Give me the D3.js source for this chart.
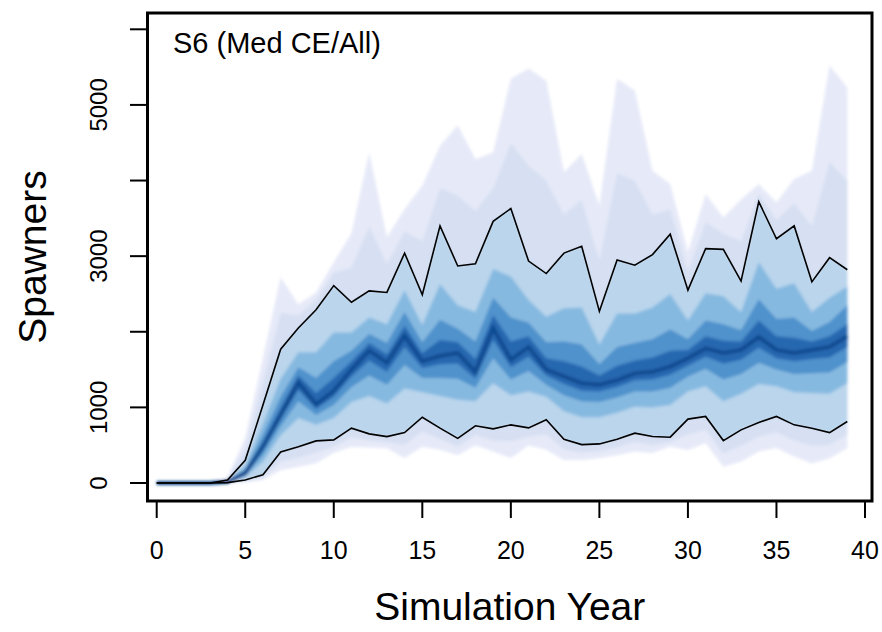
<!DOCTYPE html>
<html>
<head>
<meta charset="utf-8">
<script src="https://cdn.jsdelivr.net/npm/d3@7"></script>
<style>
  body { margin: 0; background: #fff; }
  text { font-family: "Liberation Sans", Arial, sans-serif; fill: #000; }
</style>
</head>
<body>
<svg id="chart"></svg>
<script>
// simulation years 0..39
var years = d3.range(0, 40);

// quantiles of spawners
var q01 = [0,0,0,0,0,10,40,170,216,260,400,480,470,460,330,480,440,370,500,415,
           330,500,440,305,305,330,370,415,398,482,438,530,216,283,415,464,349,261,327,464];
var q05 = [0,0,0,0,2,20,70,280,330,400,480,600,560,540,500,680,580,480,630,560,
           550,610,640,440,400,420,470,540,500,540,640,700,390,490,610,670,560,490,500,640];
var q10 = [0,0,0,0,5,40,110,410,480,557,570,725,650,614,667,870,725,590,756,716,
           769,729,836,579,508,517,579,659,614,606,845,880,561,703,800,880,769,725,667,813];
var q20 = [0,0,0,0,10,80,280,630,860,770,860,1070,1150,1050,1250,1200,1150,1100,1080,1320,
           1160,1210,1140,950,870,870,930,1010,1000,1030,1210,1280,1080,1180,1310,1280,1200,1190,1180,1320];
var q30 = [0,0,0,0,12,103,370,750,1080,900,1030,1270,1420,1300,1560,1390,1390,1380,1260,1650,
           1370,1480,1300,1160,1080,1070,1130,1210,1210,1260,1410,1510,1370,1440,1590,1500,1440,1450,1460,1600];
var q40 = [0,0,0,0,14,119,436,840,1230,980,1140,1410,1620,1470,1800,1520,1570,1580,1380,1890,
           1530,1670,1420,1310,1220,1210,1270,1360,1370,1430,1550,1670,1580,1630,1790,1650,1610,1640,1660,1800];
var q50 = [0,0,0,0,15,130,480,900,1330,1040,1220,1500,1750,1590,1950,1610,1680,1720,1470,2050,
           1630,1800,1500,1410,1320,1300,1360,1450,1470,1540,1650,1780,1720,1760,1930,1760,1720,1760,1800,1940];
var q60 = [0,0,0,0,18,150,546,1000,1420,1190,1390,1610,1850,1700,2080,1720,1890,1860,1640,2220,
           1870,1940,1650,1610,1540,1420,1550,1620,1660,1750,1760,1940,1880,1870,2150,1940,1920,1870,1940,2100];
var q70 = [0,0,0,0,22,178,634,1140,1530,1390,1610,1750,1970,1850,2260,1860,2160,2040,1870,2450,
           2190,2120,1860,1870,1830,1570,1800,1850,1900,2030,1900,2150,2100,2020,2430,2170,2190,2010,2130,2350];
var q80 = [0,0,0,0,29,224,783,1380,1730,1730,1990,1990,2190,2100,2550,2090,2630,2350,2260,2830,
           2730,2420,2200,2310,2320,1830,2240,2240,2320,2500,2150,2510,2470,2260,2920,2570,2640,2260,2450,2600];
var q90 = [0,0,0,0,40,300,1030,1770,2050,2290,2610,2390,2540,2520,3040,2490,3400,2870,2900,3460,
           3630,2935,2770,3040,3130,2270,2950,2880,3020,3290,2550,3100,3090,2670,3720,3230,3400,2660,2980,2820];
var q95 = [0,0,0,0,60,440,1330,2250,2220,2420,2780,2850,3400,2900,3330,3200,3900,3800,3600,3900,
           4500,4200,4000,3550,3750,2950,4100,4000,3550,3620,2800,3450,3300,3200,3830,3480,3700,3400,4250,4000];
var q99 = [0,0,0,0,80,600,1650,2720,2360,2520,2920,3300,4370,3250,3620,3930,4460,4730,4280,4370,
           5345,5480,5320,4110,4350,3665,5345,5190,4130,3950,3050,3820,3510,3750,3950,3710,4020,4130,5520,5230];

var yTicks = [0, 1000, 2000, 3000, 4000, 5000, 6000];
var yLabels = [0, 1000, 3000, 5000];
var xTicks = [0, 5, 10, 15, 20, 25, 30, 35, 40];

var width = 882, height = 632;
var box = {left: 147.5, right: 872, top: 13, bottom: 501};

var svg = d3.select("#chart")
    .attr("width", width)
    .attr("height", height);

var x = d3.scaleLinear().domain([0, 40]).range([156.7, 865]);
var y = d3.scaleLinear().domain([0, 6000]).range([483, 29.3]);

var defs = svg.append("defs");
defs.append("clipPath").attr("id", "plotclip")
    .append("rect")
    .attr("x", box.left).attr("y", box.top)
    .attr("width", box.right - box.left).attr("height", box.bottom - box.top);
defs.append("filter").attr("id", "soft")
    .attr("x", "-5%").attr("y", "-5%").attr("width", "110%").attr("height", "110%")
    .append("feGaussianBlur").attr("stdDeviation", 1.8);

// outer to inner
var bands = [
    {lo: q01, hi: q99, color: "#e6e9f8"},
    {lo: q05, hi: q95, color: "#d7e0f2"},
    {lo: q10, hi: q90, color: "#bad5ec"},
    {lo: q20, hi: q80, color: "#86b9e0"},
    {lo: q30, hi: q70, color: "#4f92cc"},
    {lo: q40, hi: q60, color: "#2767b0"}
];

var area = function (lo, hi) {
    return d3.area()
        .x(function (d) { return x(d); })
        .y0(function (d, i) { return y(lo[i]); })
        .y1(function (d, i) { return y(hi[i]); });
};

var line = function (vals) {
    return d3.line()
        .x(function (d) { return x(d); })
        .y(function (d, i) { return y(vals[i]); });
};

var plot = svg.append("g").attr("clip-path", "url(#plotclip)");
var fan = plot.append("g").attr("filter", "url(#soft)");

bands.forEach(function (b) {
    fan.append("path")
        .datum(years)
        .attr("d", area(b.lo, b.hi))
        .attr("fill", b.color);
});

fan.append("path")
    .datum(years)
    .attr("d", line(q50))
    .attr("fill", "none")
    .attr("stroke", "#0b4a8f")
    .attr("stroke-width", 4);

[q10, q90].forEach(function (q) {
    plot.append("path")
        .datum(years)
        .attr("d", line(q))
        .attr("fill", "none")
        .attr("stroke", "#000")
        .attr("stroke-width", 1.6)
        .attr("stroke-linejoin", "miter");
});

// frame
svg.append("rect")
    .attr("x", box.left).attr("y", box.top)
    .attr("width", box.right - box.left).attr("height", box.bottom - box.top)
    .attr("fill", "none")
    .attr("stroke", "#000")
    .attr("stroke-width", 3);

// y axis
svg.selectAll(".ytick")
    .data(yTicks)
    .enter().append("line")
    .attr("class", "ytick")
    .attr("x1", 130).attr("x2", box.left)
    .attr("y1", function (d) { return y(d); })
    .attr("y2", function (d) { return y(d); })
    .attr("stroke", "#000")
    .attr("stroke-width", 2);

svg.selectAll(".ylab")
    .data(yLabels)
    .enter().append("text")
    .attr("class", "ylab")
    .attr("transform", function (d) { return "translate(107," + y(d) + ")rotate(-90)"; })
    .attr("text-anchor", "middle")
    .style("font-size", "24px")
    .text(function (d) { return d; });

// x axis
svg.selectAll(".xtick")
    .data(xTicks)
    .enter().append("line")
    .attr("class", "xtick")
    .attr("x1", function (d) { return x(d); })
    .attr("x2", function (d) { return x(d); })
    .attr("y1", box.bottom).attr("y2", 518)
    .attr("stroke", "#000")
    .attr("stroke-width", 2);

svg.selectAll(".xlab")
    .data(xTicks)
    .enter().append("text")
    .attr("class", "xlab")
    .attr("x", function (d) { return x(d); })
    .attr("y", 559)
    .attr("text-anchor", "middle")
    .style("font-size", "25px")
    .text(function (d) { return d; });

svg.append("text")
    .attr("x", (box.left + box.right) / 2)
    .attr("y", 620)
    .attr("text-anchor", "middle")
    .style("font-size", "39px")
    .text("Simulation Year");

svg.append("text")
    .attr("transform", "translate(46," + ((box.top + box.bottom) / 2) + ")rotate(-90)")
    .attr("text-anchor", "middle")
    .style("font-size", "39px")
    .text("Spawners");

svg.append("text")
    .attr("x", 173)
    .attr("y", 53)
    .style("font-size", "29px")
    .text("S6 (Med CE/All)");
</script>
</body>
</html>
